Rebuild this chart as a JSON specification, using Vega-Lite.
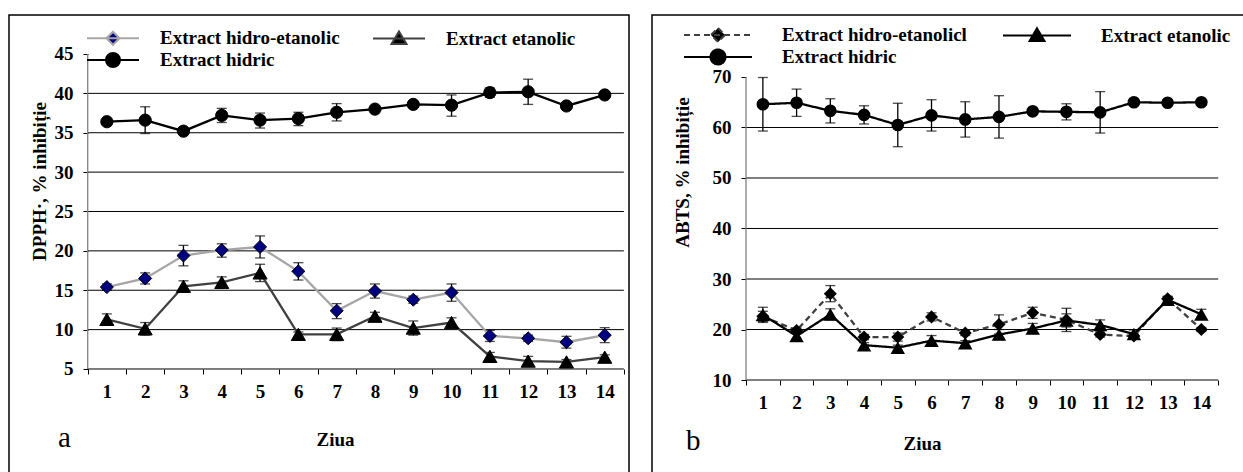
{
  "$schema": "https://vega.github.io/schema/vega-lite/v6.json",
  "padding": {"left": 8, "top": 14, "right": 0, "bottom": 0},
  "background": "#ffffff",
  "spacing": 23,
  "bounds": "flush",
  "resolve": {
    "scale": {"x": "independent", "y": "independent", "color": "independent", "shape": "independent", "fill": "independent", "size": "independent", "strokeDash": "independent"},
    "legend": {"color": "independent", "shape": "independent", "fill": "independent", "strokeDash": "independent"},
    "axis": {"x": "independent", "y": "independent"}
  },
  "datasets": {
    "dpph": [
      {"day": 1, "series": "Extract hidric", "val": 36.4, "lo": 36.1, "hi": 36.7},
      {"day": 2, "series": "Extract hidric", "val": 36.6, "lo": 34.9, "hi": 38.3},
      {"day": 3, "series": "Extract hidric", "val": 35.2, "lo": 34.9, "hi": 35.5},
      {"day": 4, "series": "Extract hidric", "val": 37.2, "lo": 36.3, "hi": 38.1},
      {"day": 5, "series": "Extract hidric", "val": 36.6, "lo": 35.6, "hi": 37.5},
      {"day": 6, "series": "Extract hidric", "val": 36.8, "lo": 35.9, "hi": 37.6},
      {"day": 7, "series": "Extract hidric", "val": 37.6, "lo": 36.5, "hi": 38.7},
      {"day": 8, "series": "Extract hidric", "val": 38.0, "lo": 37.7, "hi": 38.3},
      {"day": 9, "series": "Extract hidric", "val": 38.6, "lo": 38.3, "hi": 38.9},
      {"day": 10, "series": "Extract hidric", "val": 38.5, "lo": 37.1, "hi": 39.8},
      {"day": 11, "series": "Extract hidric", "val": 40.1, "lo": 39.5, "hi": 40.7},
      {"day": 12, "series": "Extract hidric", "val": 40.2, "lo": 38.6, "hi": 41.8},
      {"day": 13, "series": "Extract hidric", "val": 38.4, "lo": 38.1, "hi": 38.7},
      {"day": 14, "series": "Extract hidric", "val": 39.8, "lo": 39.5, "hi": 40.1},
      {"day": 1, "series": "Extract hidro-etanolic", "val": 15.4, "lo": 15.0, "hi": 15.8},
      {"day": 2, "series": "Extract hidro-etanolic", "val": 16.5, "lo": 15.8, "hi": 17.2},
      {"day": 3, "series": "Extract hidro-etanolic", "val": 19.4, "lo": 18.1, "hi": 20.7},
      {"day": 4, "series": "Extract hidro-etanolic", "val": 20.1, "lo": 19.2, "hi": 20.9},
      {"day": 5, "series": "Extract hidro-etanolic", "val": 20.5, "lo": 19.1, "hi": 21.9},
      {"day": 6, "series": "Extract hidro-etanolic", "val": 17.4, "lo": 16.3, "hi": 18.5},
      {"day": 7, "series": "Extract hidro-etanolic", "val": 12.4, "lo": 11.4, "hi": 13.3},
      {"day": 8, "series": "Extract hidro-etanolic", "val": 14.9, "lo": 14.0, "hi": 15.8},
      {"day": 9, "series": "Extract hidro-etanolic", "val": 13.8, "lo": 13.35, "hi": 14.25},
      {"day": 10, "series": "Extract hidro-etanolic", "val": 14.7, "lo": 13.6, "hi": 15.8},
      {"day": 11, "series": "Extract hidro-etanolic", "val": 9.2, "lo": 8.5, "hi": 9.9},
      {"day": 12, "series": "Extract hidro-etanolic", "val": 8.9, "lo": 8.5, "hi": 9.3},
      {"day": 13, "series": "Extract hidro-etanolic", "val": 8.4, "lo": 7.65, "hi": 9.15},
      {"day": 14, "series": "Extract hidro-etanolic", "val": 9.3, "lo": 8.35, "hi": 10.25},
      {"day": 1, "series": "Extract etanolic", "val": 11.3, "lo": 10.6, "hi": 12.0},
      {"day": 2, "series": "Extract etanolic", "val": 10.1, "lo": 9.3, "hi": 10.9},
      {"day": 3, "series": "Extract etanolic", "val": 15.5, "lo": 14.8, "hi": 16.2},
      {"day": 4, "series": "Extract etanolic", "val": 16.0, "lo": 15.3, "hi": 16.7},
      {"day": 5, "series": "Extract etanolic", "val": 17.2, "lo": 16.1, "hi": 18.3},
      {"day": 6, "series": "Extract etanolic", "val": 9.4, "lo": 9.1, "hi": 9.7},
      {"day": 7, "series": "Extract etanolic", "val": 9.4, "lo": 8.6, "hi": 10.2},
      {"day": 8, "series": "Extract etanolic", "val": 11.7, "lo": 11.2, "hi": 12.2},
      {"day": 9, "series": "Extract etanolic", "val": 10.2, "lo": 9.3, "hi": 11.1},
      {"day": 10, "series": "Extract etanolic", "val": 10.9, "lo": 10.3, "hi": 11.5},
      {"day": 11, "series": "Extract etanolic", "val": 6.6, "lo": 6.1, "hi": 7.1},
      {"day": 12, "series": "Extract etanolic", "val": 6.0, "lo": 5.4, "hi": 6.6},
      {"day": 13, "series": "Extract etanolic", "val": 5.9, "lo": 5.6, "hi": 6.2},
      {"day": 14, "series": "Extract etanolic", "val": 6.5, "lo": 6.2, "hi": 6.8}
    ],
    "abts": [
      {"day": 1, "series": "Extract hidric", "val": 64.6, "lo": 59.3, "hi": 69.9},
      {"day": 2, "series": "Extract hidric", "val": 64.9, "lo": 62.2, "hi": 67.6},
      {"day": 3, "series": "Extract hidric", "val": 63.3, "lo": 60.9, "hi": 65.7},
      {"day": 4, "series": "Extract hidric", "val": 62.5, "lo": 60.7, "hi": 64.3},
      {"day": 5, "series": "Extract hidric", "val": 60.5, "lo": 56.2, "hi": 64.8},
      {"day": 6, "series": "Extract hidric", "val": 62.4, "lo": 59.3, "hi": 65.5},
      {"day": 7, "series": "Extract hidric", "val": 61.6, "lo": 58.1, "hi": 65.1},
      {"day": 8, "series": "Extract hidric", "val": 62.1, "lo": 57.9, "hi": 66.3},
      {"day": 9, "series": "Extract hidric", "val": 63.2, "lo": 62.8, "hi": 63.6},
      {"day": 10, "series": "Extract hidric", "val": 63.1, "lo": 61.5, "hi": 64.7},
      {"day": 11, "series": "Extract hidric", "val": 63.0, "lo": 58.9, "hi": 67.1},
      {"day": 12, "series": "Extract hidric", "val": 65.0, "lo": 64.6, "hi": 65.4},
      {"day": 13, "series": "Extract hidric", "val": 64.9, "lo": 64.5, "hi": 65.3},
      {"day": 14, "series": "Extract hidric", "val": 65.0, "lo": 64.6, "hi": 65.4},
      {"day": 1, "series": "Extract hidro-etanolicl", "val": 22.6, "lo": 21.6, "hi": 23.6},
      {"day": 2, "series": "Extract hidro-etanolicl", "val": 19.8, "lo": 19.3, "hi": 20.3},
      {"day": 3, "series": "Extract hidro-etanolicl", "val": 27.1, "lo": 25.5, "hi": 28.7},
      {"day": 4, "series": "Extract hidro-etanolicl", "val": 18.5, "lo": 18.0, "hi": 19.0},
      {"day": 5, "series": "Extract hidro-etanolicl", "val": 18.5, "lo": 17.7, "hi": 19.3},
      {"day": 6, "series": "Extract hidro-etanolicl", "val": 22.5, "lo": 21.7, "hi": 23.3},
      {"day": 7, "series": "Extract hidro-etanolicl", "val": 19.3, "lo": 18.8, "hi": 19.8},
      {"day": 8, "series": "Extract hidro-etanolicl", "val": 21.0, "lo": 19.1, "hi": 22.9},
      {"day": 9, "series": "Extract hidro-etanolicl", "val": 23.3, "lo": 22.2, "hi": 24.4},
      {"day": 10, "series": "Extract hidro-etanolicl", "val": 21.9, "lo": 19.6, "hi": 24.2},
      {"day": 11, "series": "Extract hidro-etanolicl", "val": 19.0, "lo": 18.5, "hi": 19.5},
      {"day": 12, "series": "Extract hidro-etanolicl", "val": 18.7, "lo": 18.3, "hi": 19.1},
      {"day": 13, "series": "Extract hidro-etanolicl", "val": 26.1, "lo": 25.6, "hi": 26.6},
      {"day": 14, "series": "Extract hidro-etanolicl", "val": 20.0, "lo": 19.6, "hi": 20.4},
      {"day": 1, "series": "Extract etanolic", "val": 22.9, "lo": 21.4, "hi": 24.4},
      {"day": 2, "series": "Extract etanolic", "val": 18.7, "lo": 18.2, "hi": 19.2},
      {"day": 3, "series": "Extract etanolic", "val": 23.0, "lo": 21.9, "hi": 24.1},
      {"day": 4, "series": "Extract etanolic", "val": 16.9, "lo": 16.4, "hi": 17.4},
      {"day": 5, "series": "Extract etanolic", "val": 16.4, "lo": 15.9, "hi": 16.9},
      {"day": 6, "series": "Extract etanolic", "val": 17.8, "lo": 16.8, "hi": 18.8},
      {"day": 7, "series": "Extract etanolic", "val": 17.3, "lo": 16.8, "hi": 17.8},
      {"day": 8, "series": "Extract etanolic", "val": 19.0, "lo": 18.0, "hi": 20.0},
      {"day": 9, "series": "Extract etanolic", "val": 20.2, "lo": 19.2, "hi": 21.2},
      {"day": 10, "series": "Extract etanolic", "val": 21.8, "lo": 20.5, "hi": 23.1},
      {"day": 11, "series": "Extract etanolic", "val": 20.9, "lo": 19.9, "hi": 21.9},
      {"day": 12, "series": "Extract etanolic", "val": 19.1, "lo": 18.3, "hi": 19.9},
      {"day": 13, "series": "Extract etanolic", "val": 25.9, "lo": 25.3, "hi": 26.5},
      {"day": 14, "series": "Extract etanolic", "val": 23.0, "lo": 22.0, "hi": 24.0}
    ],
    "gridL": [{"g": 5}, {"g": 10}, {"g": 15}, {"g": 20}, {"g": 25}, {"g": 30}, {"g": 35}, {"g": 40}],
    "gridR": [{"g": 10}, {"g": 20}, {"g": 30}, {"g": 40}, {"g": 50}, {"g": 60}]
  },
  "hconcat": [
    {
      "width": 620,
      "height": 476,
      "title": {"text": "a", "orient": "bottom", "anchor": "start", "baseline": "middle", "dx": 49, "dy": -53, "offset": 0},
      "layer": [
        {
          "data": {"name": "gridL"},
          "mark": {"type": "rule", "color": "#000000", "strokeWidth": 1},
          "encoding": {
            "y": {
              "field": "g", "type": "quantitative", "title": "DPPH·, % inhibiție",
              "scale": {"domain": [-10.492, 49.952], "nice": false, "zero": false},
              "axis": {
                "values": [5, 10, 15, 20, 25, 30, 35, 40, 45],
                "offset": -79,
                "tickSize": 5,
                "labelPadding": 10,
                "titleAngle": -90,
                "titleX": -48.5,
                "titleY": 166,
                "titleAlign": "center",
                "titleBaseline": "middle"
              }
            },
            "x": {
              "datum": 0.5, "type": "quantitative", "title": "Ziua",
              "scale": {"domain": [-1.555, 14.633], "nice": false, "zero": false},
              "axis": {
                "values": [0.5, 1.5, 2.5, 3.5, 4.5, 5.5, 6.5, 7.5, 8.5, 9.5, 10.5, 11.5, 12.5, 13.5, 14.5],
                "labelExpr": "datum.value < 14 ? format(datum.value + 0.5, 'd') : ''",
                "labelOffset": 19.15,
                "offset": -122,
                "tickSize": 5,
                "labelPadding": 8,
                "titleX": 326,
                "titleY": 70,
                "titleBaseline": "middle"
              }
            },
            "x2": {"datum": 14.5}
          }
        },
        {
          "data": {"values": [{"axisline": "y"}]},
          "mark": {"type": "rule", "color": "#808080", "strokeWidth": 1.3},
          "encoding": {
            "x": {"datum": 0.5, "type": "quantitative", "title": "Ziua"},
            "y": {"datum": 5, "type": "quantitative", "title": "DPPH·, % inhibiție"},
            "y2": {"datum": 45}
          }
        },
        {
          "data": {"name": "dpph"},
          "mark": {"type": "errorbar", "ticks": {"size": 10, "thickness": 1.3}, "rule": {"strokeWidth": 1.3}},
          "encoding": {
            "x": {"field": "day", "type": "quantitative", "title": "Ziua"},
            "y": {"field": "lo", "type": "quantitative", "title": "DPPH·, % inhibiție"},
            "y2": {"field": "hi"},
            "detail": {"field": "series"},
            "color": {"value": "#000000"}
          }
        },
        {
          "data": {"name": "dpph"},
          "mark": {"type": "line", "strokeWidth": 2.3},
          "encoding": {
            "x": {"field": "day", "type": "quantitative", "title": "Ziua"},
            "y": {"field": "val", "type": "quantitative", "title": "DPPH·, % inhibiție"},
            "color": {
              "field": "series", "type": "nominal",
              "scale": {"domain": ["Extract hidro-etanolic", "Extract etanolic", "Extract hidric"], "range": ["#a6a6a6", "#404040", "#000000"]},
              "legend": {"orient": "none", "legendX": 77, "legendY": 12, "columns": 2, "direction": "horizontal", "title": null, "symbolSize": 400, "symbolStrokeWidth": 2, "symbolOffset": 16, "labelOffset": 36, "columnPadding": 29, "rowPadding": -4}
            }
          }
        },
        {
          "data": {"name": "dpph"},
          "mark": {"type": "point", "filled": true, "opacity": 0},
          "encoding": {
            "x": {"field": "day", "type": "quantitative", "title": "Ziua"},
            "y": {"field": "val", "type": "quantitative", "title": "DPPH·, % inhibiție"},
            "color": {
              "field": "series", "type": "nominal",
              "scale": {"domain": ["Extract hidro-etanolic", "Extract etanolic", "Extract hidric"], "range": ["#a6a6a6", "#404040", "#000000"]},
              "legend": {"orient": "none", "legendX": 77, "legendY": 12, "columns": 2, "direction": "horizontal", "title": null, "symbolSize": 400, "symbolStrokeWidth": 2, "symbolOffset": 16, "labelOffset": 36, "columnPadding": 29, "rowPadding": -4}
            },
            "shape": {
              "field": "series", "type": "nominal",
              "scale": {"domain": ["Extract hidro-etanolic", "Extract etanolic", "Extract hidric"], "range": ["M-2.6,0L2.6,0M0,-0.65L0.65,0L0,0.65L-0.65,0Z", "M-2.6,0L2.6,0M0,-0.7L0.75,0.55L-0.75,0.55Z", "M-2.6,0L2.6,0M0.7,0A0.7,0.7,0,1,1,-0.7,0A0.7,0.7,0,1,1,0.7,0Z"]},
              "legend": {"orient": "none", "legendX": 77, "legendY": 12, "columns": 2, "direction": "horizontal", "title": null, "symbolSize": 400, "symbolStrokeWidth": 2, "symbolOffset": 16, "labelOffset": 36, "columnPadding": 29, "rowPadding": -4}
            },
            "fill": {
              "field": "series", "type": "nominal",
              "scale": {"domain": ["Extract hidro-etanolic", "Extract etanolic", "Extract hidric"], "range": ["#000080", "#000000", "#000000"]},
              "legend": {"orient": "none", "legendX": 77, "legendY": 12, "columns": 2, "direction": "horizontal", "title": null, "symbolSize": 400, "symbolStrokeWidth": 2, "symbolOffset": 16, "labelOffset": 36, "columnPadding": 29, "rowPadding": -4}
            }
          }
        },
        {
          "data": {"name": "dpph"},
          "mark": {"type": "point", "filled": true, "opacity": 1, "strokeWidth": 1},
          "encoding": {
            "x": {"field": "day", "type": "quantitative", "title": "Ziua"},
            "y": {"field": "val", "type": "quantitative", "title": "DPPH·, % inhibiție"},
            "shape": {"condition": [{"test": "datum.series === 'Extract hidro-etanolic'", "value": "diamond"}, {"test": "datum.series === 'Extract etanolic'", "value": "triangle-up"}], "value": "circle"},
            "fill": {"condition": {"test": "datum.series === 'Extract hidro-etanolic'", "value": "#000080"}, "value": "#000000"},
            "size": {"condition": [{"test": "datum.series === 'Extract hidro-etanolic'", "value": 170}, {"test": "datum.series === 'Extract etanolic'", "value": 200}], "value": 150},
            "stroke": {"value": "#000000"}
          }
        }
      ]
    },
    {
      "width": 599,
      "height": 476,
      "title": {"text": "b", "orient": "bottom", "anchor": "start", "baseline": "middle", "dx": 34, "dy": -50, "offset": 0},
      "layer": [
        {
          "data": {"name": "gridR"},
          "mark": {"type": "rule", "color": "#000000", "strokeWidth": 1},
          "encoding": {
            "y": {
              "field": "g", "type": "quantitative", "title": "ABTS, % inhibiție",
              "scale": {"domain": [-11.98, 82.277], "nice": false, "zero": false},
              "axis": {
                "values": [10, 20, 30, 40, 50, 60, 70],
                "offset": -94,
                "tickSize": 5,
                "labelPadding": 10,
                "titleAngle": -90,
                "titleX": -63.5,
                "titleY": 157,
                "titleAlign": "center",
                "titleBaseline": "middle"
              }
            },
            "x": {
              "datum": 0.5, "type": "quantitative", "title": "Ziua",
              "scale": {"domain": [-2.287, 15.472], "nice": false, "zero": false},
              "axis": {
                "values": [0.5, 1.5, 2.5, 3.5, 4.5, 5.5, 6.5, 7.5, 8.5, 9.5, 10.5, 11.5, 12.5, 13.5, 14.5],
                "labelExpr": "datum.value < 14 ? format(datum.value + 0.5, 'd') : ''",
                "labelOffset": 16.87,
                "offset": -111,
                "tickSize": 5,
                "labelPadding": 8,
                "titleX": 270,
                "titleY": 63,
                "titleBaseline": "middle"
              }
            },
            "x2": {"datum": 14.5}
          }
        },
        {
          "data": {"values": [{"axisline": "y"}]},
          "mark": {"type": "rule", "color": "#808080", "strokeWidth": 1.3},
          "encoding": {
            "x": {"datum": 0.5, "type": "quantitative", "title": "Ziua"},
            "y": {"datum": 10, "type": "quantitative", "title": "ABTS, % inhibiție"},
            "y2": {"datum": 70}
          }
        },
        {
          "data": {"name": "abts"},
          "mark": {"type": "errorbar", "ticks": {"size": 10, "thickness": 1.3}, "rule": {"strokeWidth": 1.3}},
          "encoding": {
            "x": {"field": "day", "type": "quantitative", "title": "Ziua"},
            "y": {"field": "lo", "type": "quantitative", "title": "ABTS, % inhibiție"},
            "y2": {"field": "hi"},
            "detail": {"field": "series"},
            "color": {"value": "#000000"}
          }
        },
        {
          "data": {"name": "abts"},
          "mark": {"type": "line", "strokeWidth": 2.3},
          "encoding": {
            "x": {"field": "day", "type": "quantitative", "title": "Ziua"},
            "y": {"field": "val", "type": "quantitative", "title": "ABTS, % inhibiție"},
            "color": {
              "field": "series", "type": "nominal",
              "scale": {"domain": ["Extract hidro-etanolicl", "Extract etanolic", "Extract hidric"], "range": ["#404040", "#000000", "#000000"]},
              "legend": {"orient": "none", "legendX": 31, "legendY": 9, "columns": 2, "direction": "horizontal", "title": null, "symbolSize": 400, "symbolStrokeWidth": 2, "symbolOffset": 24, "labelOffset": 53, "columnPadding": 32, "rowPadding": -1}
            },
            "strokeDash": {
              "field": "series", "type": "nominal",
              "scale": {"domain": ["Extract hidro-etanolicl", "Extract etanolic", "Extract hidric"], "range": [[6, 4], [1, 0], [1, 0]]},
              "legend": {"orient": "none", "legendX": 31, "legendY": 9, "columns": 2, "direction": "horizontal", "title": null, "symbolSize": 400, "symbolStrokeWidth": 2, "symbolOffset": 24, "labelOffset": 53, "columnPadding": 32, "rowPadding": -1}
            }
          }
        },
        {
          "data": {"name": "abts"},
          "mark": {"type": "point", "filled": true, "opacity": 0},
          "encoding": {
            "x": {"field": "day", "type": "quantitative", "title": "Ziua"},
            "y": {"field": "val", "type": "quantitative", "title": "ABTS, % inhibiție"},
            "color": {
              "field": "series", "type": "nominal",
              "scale": {"domain": ["Extract hidro-etanolicl", "Extract etanolic", "Extract hidric"], "range": ["#404040", "#000000", "#000000"]},
              "legend": {"orient": "none", "legendX": 31, "legendY": 9, "columns": 2, "direction": "horizontal", "title": null, "symbolSize": 400, "symbolStrokeWidth": 2, "symbolOffset": 24, "labelOffset": 53, "columnPadding": 32, "rowPadding": -1}
            },
            "shape": {
              "field": "series", "type": "nominal",
              "scale": {"domain": ["Extract hidro-etanolicl", "Extract etanolic", "Extract hidric"], "range": ["M-3.4,0L3.4,0M0,-0.7L0.7,0L0,0.7L-0.7,0Z", "M-3.4,0L3.4,0M0,-0.72L0.75,0.56L-0.75,0.56Z", "M-3.4,0L3.4,0M0.75,0A0.75,0.75,0,1,1,-0.75,0A0.75,0.75,0,1,1,0.75,0Z"]},
              "legend": {"orient": "none", "legendX": 31, "legendY": 9, "columns": 2, "direction": "horizontal", "title": null, "symbolSize": 400, "symbolStrokeWidth": 2, "symbolOffset": 24, "labelOffset": 53, "columnPadding": 32, "rowPadding": -1}
            },
            "fill": {
              "field": "series", "type": "nominal",
              "scale": {"domain": ["Extract hidro-etanolicl", "Extract etanolic", "Extract hidric"], "range": ["#000000", "#000000", "#000000"]},
              "legend": {"orient": "none", "legendX": 31, "legendY": 9, "columns": 2, "direction": "horizontal", "title": null, "symbolSize": 400, "symbolStrokeWidth": 2, "symbolOffset": 24, "labelOffset": 53, "columnPadding": 32, "rowPadding": -1}
            }
          }
        },
        {
          "data": {"name": "abts"},
          "mark": {"type": "point", "filled": true, "opacity": 1, "strokeWidth": 1},
          "encoding": {
            "x": {"field": "day", "type": "quantitative", "title": "Ziua"},
            "y": {"field": "val", "type": "quantitative", "title": "ABTS, % inhibiție"},
            "shape": {"condition": [{"test": "datum.series === 'Extract hidro-etanolicl'", "value": "diamond"}, {"test": "datum.series === 'Extract etanolic'", "value": "triangle-up"}], "value": "circle"},
            "size": {"condition": [{"test": "datum.series === 'Extract hidro-etanolicl'", "value": 170}, {"test": "datum.series === 'Extract etanolic'", "value": 210}], "value": 160},
            "color": {"value": "#000000"}
          }
        }
      ]
    }
  ],
  "config": {
    "view": {"stroke": "#000000", "strokeWidth": 1.5},
    "font": "Liberation Serif",
    "axis": {
      "domain": false,
      "grid": false,
      "tickColor": "#000000",
      "tickWidth": 1,
      "labelFont": "Liberation Serif",
      "labelFontSize": 19,
      "labelFontWeight": "bold",
      "labelColor": "#000000",
      "labelFlush": false,
      "labelOverlap": false,
      "titleFont": "Liberation Serif",
      "titleFontSize": 19,
      "titleFontWeight": "bold",
      "titleColor": "#000000"
    },
    "legend": {
      "labelFont": "Liberation Serif",
      "labelFontSize": 19,
      "labelFontWeight": "bold",
      "labelColor": "#000000",
      "labelLimit": 0,
      "symbolOpacity": 1
    },
    "title": {"font": "Liberation Serif", "fontSize": 29, "fontWeight": "normal", "color": "#000000"}
  }
}
